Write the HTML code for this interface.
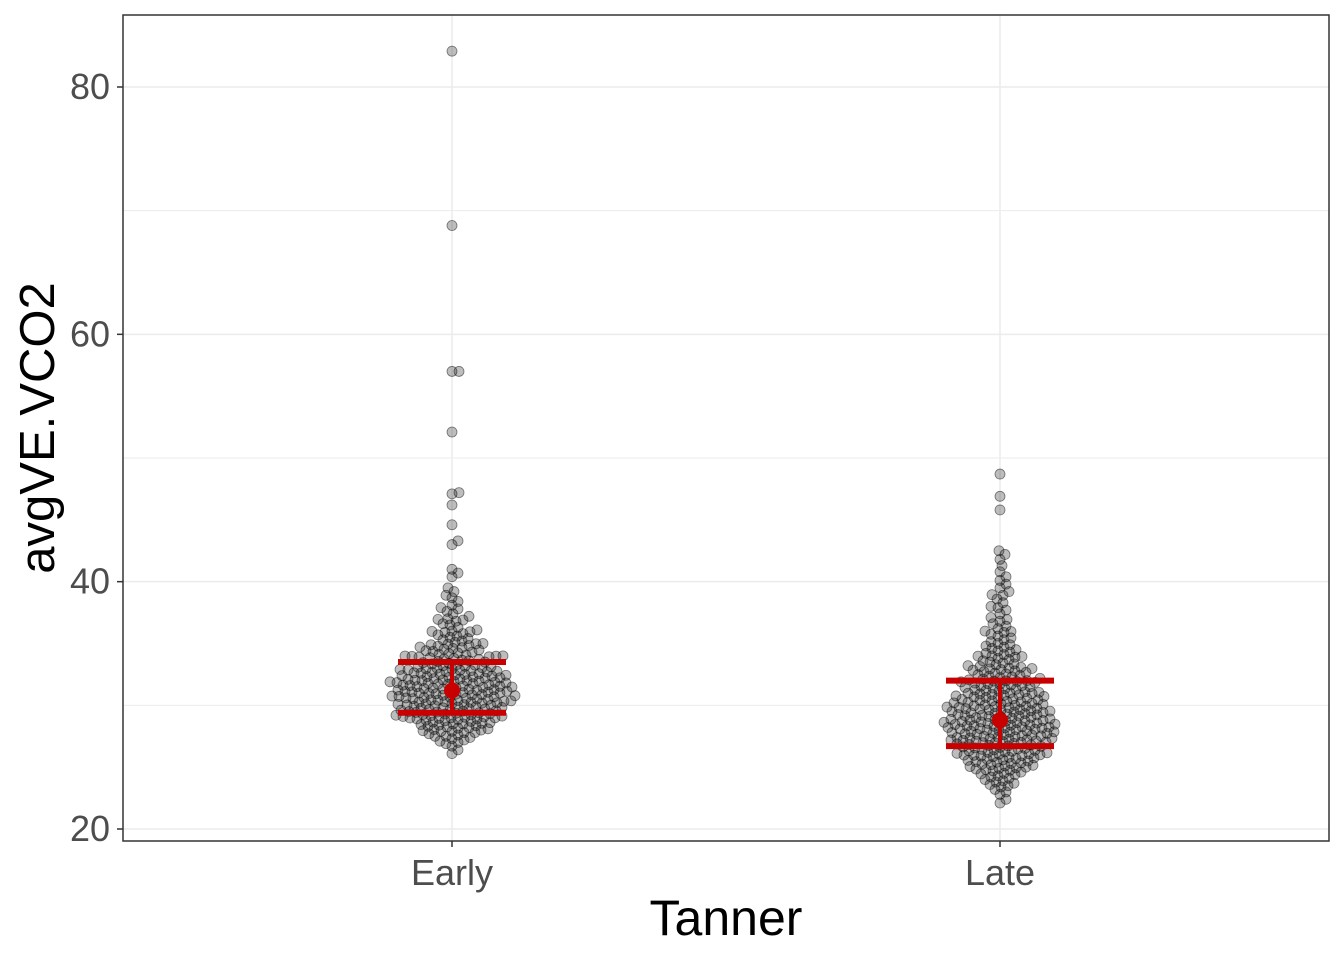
<!DOCTYPE html>
<html><head><meta charset="utf-8"><style>
body{margin:0;background:#fff}
svg{display:block;font-family:"Liberation Sans",Arial,sans-serif}
</style></head><body>
<svg id="chart" width="1344" height="960">
<rect x="123" y="15" width="1206" height="826" fill="#fff"/>
<g id="grid"></g><g id="pts"></g><g id="err"></g><g id="axes"></g>
</svg>
<script>
const categories = ["Early","Late"];
const earlyValues = [
26.1,26.4,26.7,26.9,
27.0,27.1,27.2,27.3,27.4,27.5,27.5,27.6,27.7,27.8,27.8,27.9,27.9,27.95,
28.0,28.05,28.1,28.15,28.2,28.25,28.3,28.35,28.4,28.45,28.5,28.5,28.55,28.6,28.65,28.7,28.75,28.8,28.85,28.9,28.9,28.95,28.98,28.99,
29.0,29.03,29.06,29.1,29.13,29.16,29.2,29.23,29.26,29.3,29.33,29.36,29.4,29.43,29.46,29.5,29.53,29.56,29.6,29.63,29.66,29.7,29.73,29.76,29.8,29.83,29.86,29.9,29.93,29.96,
30.0,30.03,30.06,30.09,30.12,30.15,30.18,30.21,30.24,30.27,30.3,30.33,30.36,30.39,30.42,30.45,30.48,30.51,30.54,30.57,30.6,30.63,30.66,30.69,30.72,30.75,30.78,30.81,30.84,30.87,30.9,30.93,30.96,30.99,
31.0,31.03,31.06,31.09,31.12,31.15,31.18,31.21,31.24,31.27,31.3,31.33,31.36,31.39,31.42,31.45,31.48,31.51,31.54,31.57,31.6,31.63,31.66,31.69,31.72,31.75,31.78,31.81,31.84,31.87,31.9,31.93,31.96,31.99,
32.0,32.03,32.06,32.1,32.13,32.16,32.2,32.23,32.26,32.3,32.33,32.36,32.4,32.43,32.46,32.5,32.53,32.56,32.6,32.63,32.66,32.7,32.73,32.76,32.8,32.83,32.86,32.9,32.93,32.96,
33.0,33.04,33.08,33.12,33.16,33.2,33.25,33.3,33.35,33.4,33.45,33.5,33.55,33.6,33.65,33.7,33.75,33.8,33.85,33.9,33.93,33.96,33.98,33.99,
34.0,34.06,34.12,34.18,34.24,34.3,34.36,34.42,34.48,34.54,34.6,34.66,34.72,34.78,34.84,34.9,34.95,34.98,
35.0,35.1,35.2,35.3,35.4,35.5,35.6,35.7,35.8,35.9,35.95,35.98,
36.0,36.1,36.3,36.5,36.6,36.8,36.9,36.95,
37.0,37.2,37.4,37.6,37.8,37.9,
38.1,38.4,38.7,38.9,
39.2,39.5,40.4,40.7,41.0,43.0,43.3,44.6,46.2,47.1,47.2,52.1,57.0,57.0,68.8,82.9];
const lateValues = [
22.1,22.4,22.8,
23.0,23.2,23.4,23.5,23.6,23.7,23.8,23.9,
24.0,24.1,24.2,24.3,24.4,24.45,24.5,24.6,24.7,24.75,24.8,24.85,24.9,24.95,
25.0,25.05,25.1,25.15,25.2,25.25,25.3,25.35,25.4,25.45,25.5,25.55,25.6,25.65,25.7,25.75,25.8,25.85,25.9,25.93,25.96,25.98,
26.0,26.04,26.08,26.12,26.16,26.2,26.24,26.28,26.32,26.36,26.4,26.44,26.48,26.52,26.56,26.6,26.64,26.68,26.72,26.76,26.8,26.84,26.88,26.92,26.96,26.98,
27.0,27.03,27.06,27.1,27.13,27.16,27.2,27.23,27.26,27.3,27.33,27.36,27.4,27.43,27.46,27.5,27.53,27.56,27.6,27.63,27.66,27.7,27.73,27.76,27.8,27.83,27.86,27.9,27.93,27.96,
28.0,28.03,28.06,28.09,28.12,28.15,28.18,28.21,28.24,28.27,28.3,28.33,28.36,28.39,28.42,28.45,28.48,28.51,28.54,28.57,28.6,28.63,28.66,28.69,28.72,28.75,28.78,28.81,28.84,28.87,28.9,28.95,
29.0,29.03,29.06,29.1,29.13,29.16,29.2,29.23,29.26,29.3,29.33,29.36,29.4,29.43,29.46,29.5,29.53,29.56,29.6,29.63,29.66,29.7,29.73,29.76,29.8,29.83,29.86,29.9,29.93,29.96,
30.0,30.04,30.08,30.12,30.16,30.2,30.24,30.28,30.32,30.36,30.4,30.44,30.48,30.52,30.56,30.6,30.64,30.68,30.72,30.76,30.8,30.84,30.88,30.92,30.96,30.98,
31.0,31.05,31.1,31.15,31.2,31.25,31.3,31.35,31.4,31.45,31.5,31.55,31.6,31.65,31.7,31.75,31.8,31.85,31.9,31.93,31.96,31.98,
32.0,32.06,32.12,32.18,32.24,32.3,32.36,32.42,32.48,32.54,32.6,32.66,32.72,32.78,32.84,32.9,32.95,32.98,
33.0,33.07,33.14,33.21,33.28,33.35,33.42,33.5,33.6,33.7,33.8,33.9,33.95,33.98,
34.0,34.1,34.2,34.3,34.4,34.5,34.6,34.7,34.8,34.9,
35.0,35.15,35.3,35.45,35.6,35.75,35.9,35.97,
36.0,36.2,36.4,36.6,36.8,36.95,
37.1,37.4,37.7,37.9,38.0,
38.3,38.6,38.9,38.95,
39.2,39.5,39.8,40.1,40.4,40.8,41.3,41.8,42.2,42.5,45.8,46.9,48.7];
const means = [31.2, 28.8];
const errLow = [29.4, 26.7];
const errHigh = [33.5, 32.0];
const yTicks = [20,40,60,80];
const yMinor = [30,50,70];

const NS="http://www.w3.org/2000/svg";
const X0=123,X1=1329,Y0=15,Y1=841;
function yScale(v){return 829+(v-20)*(87-829)/60;}
function xScale(i){return 452+i*548;}
function mk(tag,attrs,parent){const e=document.createElementNS(NS,tag);for(const k in attrs)e.setAttribute(k,attrs[k]);parent.appendChild(e);return e;}
const grid=document.getElementById('grid'),pts=document.getElementById('pts'),err=document.getElementById('err'),axes=document.getElementById('axes');
yMinor.forEach(v=>{const l=mk('line',{x1:X0,x2:X1,y1:yScale(v),y2:yScale(v),stroke:'#ebebeb','stroke-width':1},grid);

});
yTicks.forEach(v=>{const l=mk('line',{x1:X0,x2:X1,y1:yScale(v),y2:yScale(v),stroke:'#ebebeb','stroke-width':1.5},grid);


const t=mk('line',{x1:117,x2:123,y1:yScale(v),y2:yScale(v),stroke:'#333','stroke-width':1.5},axes);


const tx=mk('text',{x:110,y:yScale(v)+12,'text-anchor':'end','font-size':36,fill:'#4d4d4d'},axes);tx.textContent=v;

});
categories.forEach((c,i)=>{const x=xScale(i);
const l=mk('line',{x1:x,x2:x,y1:Y0,y2:Y1,stroke:'#ebebeb','stroke-width':1.5},grid);


const t=mk('line',{x1:x,x2:x,y1:841,y2:847,stroke:'#333','stroke-width':1.5},axes);


const tx=mk('text',{x:x,y:885,'text-anchor':'middle','font-size':36,fill:'#4d4d4d'},axes);tx.textContent=c;

});
const R=5, D=6.4;
[earlyValues,lateValues].forEach((vals,gi)=>{
 const cx=xScale(gi);const placed=[];
 const sorted=vals.slice().sort((a,b)=>a-b);
 sorted.forEach(v=>{const y=yScale(v);let best=0;
  const cands=[0];for(let k=1;k<120;k++){cands.push(k*1,-k*1);}
  for(const dx of cands){let ok=true;for(const p of placed){if(Math.abs(p.y-y)<D){if(Math.hypot(p.x-dx,p.y-y)<D){ok=false;break;}}}if(ok){best=dx;break;}}
  placed.push({x:best,y:y});
  const c=mk('circle',{cx:cx+best,cy:y,r:R,fill:'rgba(0,0,0,0.26)',stroke:'rgba(0,0,0,0.5)','stroke-width':0.8},pts);
  
  
 });
 const red='#c80000';
 const v=mk('line',{x1:cx,x2:cx,y1:yScale(errHigh[gi]),y2:yScale(errLow[gi]),stroke:red,'stroke-width':4},err);
 
 
 [errHigh[gi],errLow[gi]].forEach(e=>{const h=mk('line',{x1:cx-54,x2:cx+54,y1:yScale(e),y2:yScale(e),stroke:red,'stroke-width':6},err);
 
 });
 const m=mk('circle',{cx:cx,cy:yScale(means[gi]),r:8,fill:red},err);
 
 
});
const b=mk('rect',{x:X0,y:Y0,width:X1-X0,height:Y1-Y0,fill:'none',stroke:'#333','stroke-width':1.5},axes);


const xt=mk('text',{x:726,y:935,'text-anchor':'middle','font-size':50,fill:'#000'},axes);xt.textContent='Tanner';


const yt=mk('text',{x:0,y:0,'text-anchor':'middle','font-size':49,fill:'#000',transform:'translate(54,428) rotate(-90)'},axes);yt.textContent='avgVE.VCO2';


</script>
</body></html>
